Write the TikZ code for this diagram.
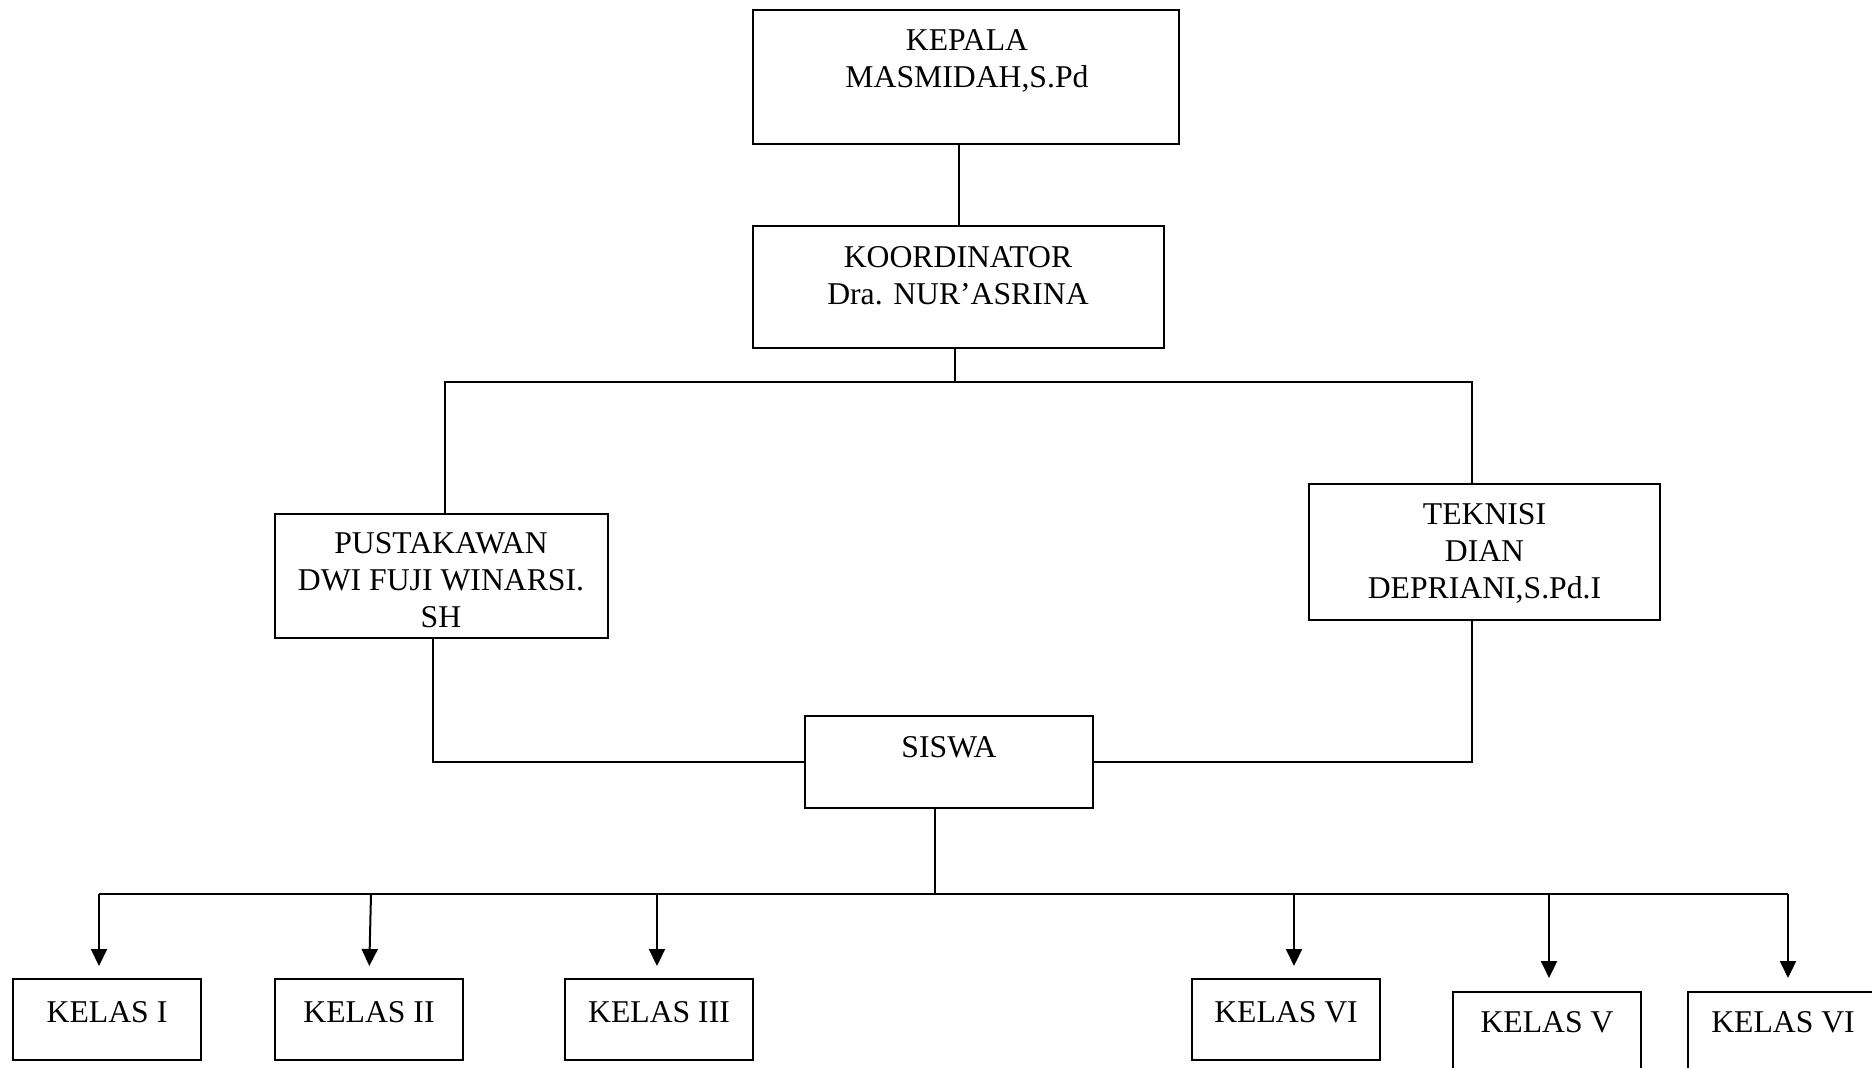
\documentclass[tikz,border=0pt]{standalone}
\usepackage{fontspec}
\setmainfont{Liberation Serif}
\usetikzlibrary{arrows.meta}
\tikzset{
  box/.style={draw, line width=1pt, inner sep=0pt, rectangle},
  txt/.style={inner sep=0pt, align=center, font=\fontsize{15.85pt}{18.5pt}\selectfont},
  conn/.style={line width=1pt},
  arr/.style={line width=1pt, -{Triangle[length=8.5pt,width=8pt]}},
}
\newcommand\mkbox[5]{\node[box, minimum width={(#4-#2)*0.5pt}, minimum height={(#5-#3)*0.5pt}] (#1) at ({(#2+#4)/2},{(#3+#5)/2}) {};}
\begin{document}
\begin{tikzpicture}[x=0.5pt,y=-0.5pt]
\useasboundingbox (0,0) rectangle (1872,1067);
\clip (0,0) rectangle (1872,1067);
\fill[white] (0,0) rectangle (1872,1067);
% boxes
\mkbox{kepala}{753}{10}{1179}{144}
\mkbox{koord}{753}{226}{1164}{348}
\mkbox{pust}{275}{514}{608}{638}
\mkbox{tek}{1309}{484}{1660}{620}
\mkbox{siswa}{805}{716}{1093}{808}
\mkbox{k1}{13}{979}{201}{1060}
\mkbox{k2}{275}{979}{463}{1060}
\mkbox{k3}{565}{979}{753}{1060}
\mkbox{k4}{1192}{979}{1380}{1060}
\mkbox{k5}{1453}{992}{1641}{1073}
\mkbox{k6}{1688}{992}{1877}{1073}
% texts (base anchor = last line baseline)
\node[txt, anchor=base] (kepalaT) at (967,87) {KEPALA\\MASMIDAH,S.Pd};
\node[txt, anchor=base] (koordT) at (958,304) {KOORDINATOR\\Dra. NUR’ASRINA};
\node[txt, anchor=base] (pustT) at (441,627) {PUSTAKAWAN\\DWI FUJI WINARSI.\\SH};
\node[txt, anchor=base] (tekT) at (1484.5,598) {TEKNISI\\DIAN\\DEPRIANI,S.Pd.I};
\node[txt, anchor=base] (siswaT) at (949,757) {SISWA};
\node[txt, anchor=base] (k1T) at (107,1022) {KELAS I};
\node[txt, anchor=base] (k2T) at (369,1022) {KELAS II};
\node[txt, anchor=base] (k3T) at (659,1022) {KELAS III};
\node[txt, anchor=base] (k4T) at (1286,1022) {KELAS VI};
\node[txt, anchor=base] (k5T) at (1547,1032) {KELAS V};
\node[txt, anchor=base] (k6T) at (1783,1032) {KELAS VI};
% junction coordinates
\coordinate (jl) at (445,382);
\coordinate (jr) at (1472,382);
\coordinate (pl) at (433,638);
\coordinate (bl) at (99,894);
\coordinate (br) at (1788,894);
\coordinate (sb) at (935,808);
\coordinate (a2) at (371,894);
\coordinate (a3) at (657,894);
\coordinate (a4) at (1294,894);
\coordinate (a5) at (1549,894);
% connectors
\draw[conn] (kepala.south -| koord.north) -- (koord.north);
\draw[conn] ([xshift=-1.75pt]koord.south) -- ([xshift=-1.75pt]koord.south |- jl);
\draw[conn] (pust.north -| jl) -- (jl) -- (jr) -- (tek.north -| jr);
\draw[conn] (pl) |- (siswa.west);
\draw[conn] (tek.south -| jr) |- (siswa.east);
\draw[conn] (sb) -- (sb |- bl);
\draw[conn] (bl) -- (br);
\draw[arr, shorten >=6pt] (bl) -- (k1.north -| bl);
\draw[arr, shorten >=6pt] (a2) -- (k2.north);
\draw[arr, shorten >=6pt] (a3) -- (k3.north -| a3);
\draw[arr, shorten >=6pt] (a4) -- (k4.north -| a4);
\draw[arr, shorten >=6.5pt] (a5) -- (k5.north -| a5);
\draw[arr, shorten >=6.5pt] (br) -- (k6.north -| br);
\end{tikzpicture}
\end{document}
